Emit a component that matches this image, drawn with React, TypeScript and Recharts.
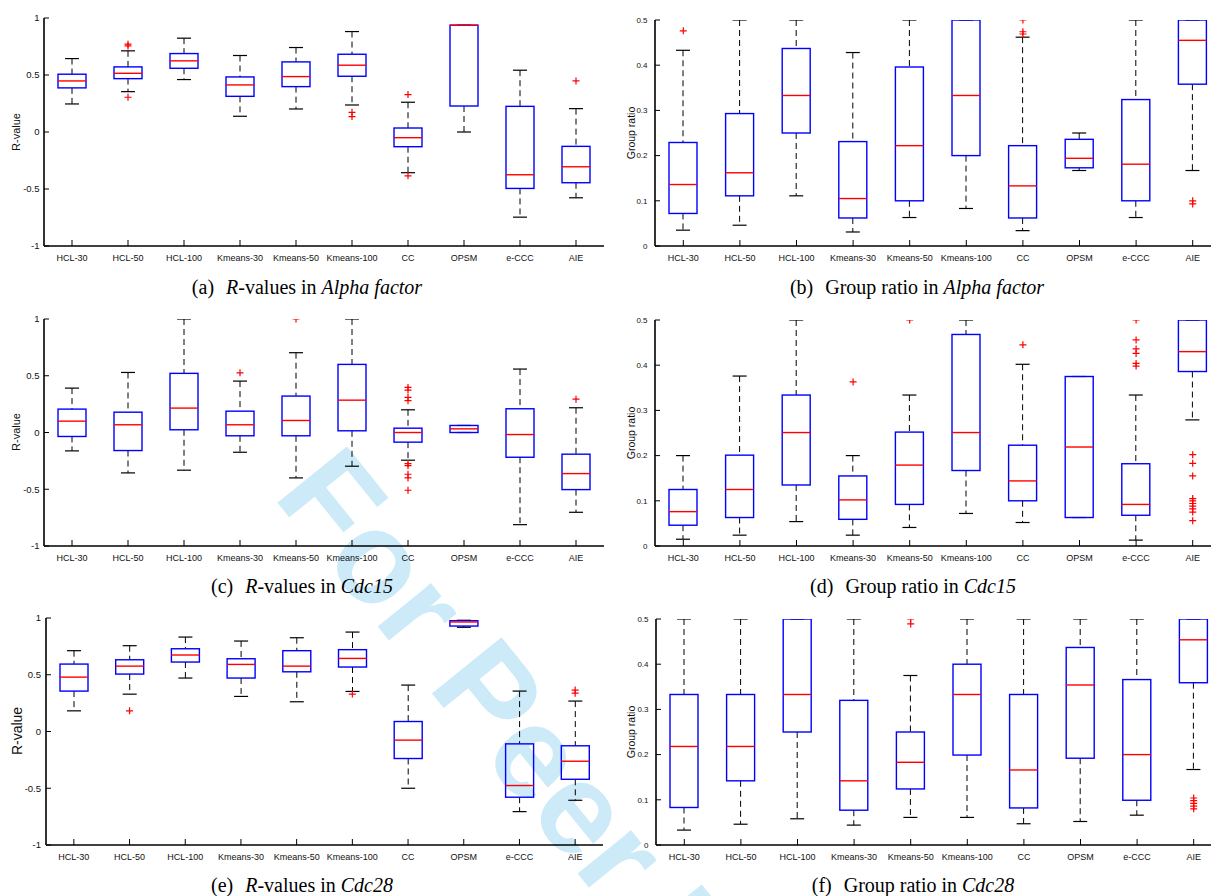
import { ComposedChart, Bar, Scatter, XAxis, YAxis } from 'recharts';

const methods = ['HCL-30', 'HCL-50', 'HCL-100', 'Kmeans-30', 'Kmeans-50', 'Kmeans-100', 'CC', 'OPSM', 'e-CCC', 'AIE'];
const positions = methods.map((_, i) => i + 1);
const rTicks = [-1, -0.5, 0, 0.5, 1];
const ratioTicks = [0, 0.1, 0.2, 0.3, 0.4, 0.5];

// each row: [lower whisker, q1, median, q3, upper whisker]
const alphaR = [
  [0.246, 0.387, 0.448, 0.507, 0.644],
  [0.354, 0.468, 0.515, 0.571, 0.712],
  [0.46, 0.559, 0.624, 0.688, 0.823],
  [0.138, 0.313, 0.413, 0.483, 0.671],
  [0.202, 0.398, 0.486, 0.615, 0.741],
  [0.237, 0.489, 0.586, 0.682, 0.881],
  [-0.357, -0.129, -0.05, 0.035, 0.261],
  [0.0, 0.228, 0.937, 0.937, 0.937],
  [-0.747, -0.495, -0.375, 0.225, 0.542],
  [-0.577, -0.445, -0.305, -0.126, 0.205],
];
const alphaRFliers = [[], [0.77, 0.755, 0.305], [], [], [], [0.173, 0.135], [0.328, -0.384], [], [], [0.448]];

const alphaRatio = [
  [0.035, 0.072, 0.136, 0.229, 0.433],
  [0.046, 0.111, 0.162, 0.293, 0.5],
  [0.111, 0.25, 0.333, 0.437, 0.5],
  [0.031, 0.062, 0.105, 0.231, 0.428],
  [0.063, 0.1, 0.222, 0.396, 0.5],
  [0.083, 0.2, 0.333, 0.5, 0.5],
  [0.034, 0.062, 0.133, 0.222, 0.462],
  [0.167, 0.173, 0.194, 0.236, 0.25],
  [0.063, 0.1, 0.181, 0.324, 0.5],
  [0.167, 0.358, 0.455, 0.5, 0.5],
];
const alphaRatioFliers = [[0.476], [], [], [], [], [], [0.5, 0.474, 0.469], [], [], [0.1, 0.093]];

const cdc15R = [
  [-0.162, -0.035, 0.1, 0.206, 0.391],
  [-0.356, -0.159, 0.068, 0.179, 0.529],
  [-0.332, 0.024, 0.215, 0.521, 1.0],
  [-0.174, -0.029, 0.068, 0.188, 0.453],
  [-0.4, -0.029, 0.106, 0.321, 0.703],
  [-0.297, 0.015, 0.285, 0.6, 1.0],
  [-0.244, -0.085, 0.0, 0.038, 0.2],
  [0.0, 0.0, 0.032, 0.062, 0.062],
  [-0.812, -0.218, -0.018, 0.209, 0.559],
  [-0.703, -0.503, -0.362, -0.191, 0.218],
];
const cdc15RFliers = [
  [], [], [], [0.526], [1.0], [],
  [0.397, 0.374, 0.309, 0.28, -0.274, -0.291, -0.368, -0.4, -0.509],
  [], [], [0.294],
];

const cdc15Ratio = [
  [0.015, 0.046, 0.076, 0.125, 0.2],
  [0.024, 0.063, 0.125, 0.201, 0.376],
  [0.054, 0.135, 0.251, 0.334, 0.5],
  [0.024, 0.059, 0.102, 0.155, 0.2],
  [0.041, 0.092, 0.179, 0.252, 0.334],
  [0.072, 0.167, 0.251, 0.468, 0.5],
  [0.052, 0.1, 0.144, 0.223, 0.402],
  [0.063, 0.063, 0.219, 0.375, 0.375],
  [0.013, 0.068, 0.092, 0.182, 0.334],
  [0.279, 0.386, 0.43, 0.5, 0.5],
];
const cdc15RatioFliers = [
  [], [], [], [0.363], [0.5], [], [0.445], [],
  [0.5, 0.456, 0.436, 0.426, 0.404, 0.398],
  [0.202, 0.183, 0.155, 0.105, 0.1, 0.094, 0.088, 0.082, 0.075, 0.056],
];

const cdc28R = [
  [0.182, 0.356, 0.479, 0.594, 0.712],
  [0.329, 0.506, 0.576, 0.632, 0.756],
  [0.471, 0.612, 0.674, 0.729, 0.832],
  [0.309, 0.471, 0.591, 0.641, 0.797],
  [0.262, 0.526, 0.576, 0.712, 0.826],
  [0.353, 0.568, 0.644, 0.721, 0.876],
  [-0.5, -0.238, -0.076, 0.088, 0.409],
  [0.918, 0.929, 0.965, 0.976, 0.98],
  [-0.706, -0.579, -0.476, -0.109, 0.356],
  [-0.606, -0.421, -0.262, -0.126, 0.268],
];
const cdc28RFliers = [[], [0.182], [], [], [], [0.33], [], [], [], [0.365, 0.338]];

const cdc28Ratio = [
  [0.033, 0.083, 0.218, 0.333, 0.5],
  [0.046, 0.142, 0.218, 0.333, 0.5],
  [0.058, 0.25, 0.333, 0.5, 0.5],
  [0.044, 0.077, 0.142, 0.32, 0.5],
  [0.061, 0.124, 0.183, 0.25, 0.375],
  [0.061, 0.199, 0.333, 0.4, 0.5],
  [0.047, 0.082, 0.166, 0.333, 0.5],
  [0.052, 0.192, 0.354, 0.437, 0.5],
  [0.066, 0.099, 0.2, 0.366, 0.5],
  [0.167, 0.359, 0.454, 0.5, 0.5],
];
const cdc28RatioFliers = [[], [], [], [], [0.5, 0.489], [], [], [], [], [0.104, 0.098, 0.092, 0.086, 0.08]];

const SANS = "'Liberation Sans', Arial, Helvetica, sans-serif";
const SERIF = "'Liberation Serif', 'Times New Roman', serif";
const BLUE = '#0000ff';
const RED = '#ff0000';

// plot rectangles (left/top of the axes box, in page pixels)
const panels = [
  { stats: alphaR, fliers: alphaRFliers, left: 44, top: 18, width: 560, height: 228, domain: [-1, 1], yTicks: rTicks, gap: 9.5, tickFont: 9.5 },
  { stats: alphaRatio, fliers: alphaRatioFliers, left: 655, top: 20, width: 566, height: 226, domain: [0, 0.5], yTicks: ratioTicks, gap: 12.5, tickFont: 8 },
  { stats: cdc15R, fliers: cdc15RFliers, left: 44, top: 319, width: 560, height: 227, domain: [-1, 1], yTicks: rTicks, gap: 9.5, tickFont: 9.5 },
  { stats: cdc15Ratio, fliers: cdc15RatioFliers, left: 655, top: 320, width: 566, height: 226, domain: [0, 0.5], yTicks: ratioTicks, gap: 12.5, tickFont: 8 },
  { stats: cdc28R, fliers: cdc28RFliers, left: 46, top: 618, width: 557, height: 227, domain: [-1, 1], yTicks: rTicks, gap: 10, tickFont: 9.5 },
  { stats: cdc28Ratio, fliers: cdc28RatioFliers, left: 656, top: 619, width: 566, height: 226, domain: [0, 0.5], yTicks: ratioTicks, gap: 12.5, tickFont: 8 },
];

// whiskers, caps, box and median for one group; the bar spans lower..upper whisker
function BoxGlyph(props: any) {
  const { x, y, width, height, payload } = props;
  if (x == null || y == null || !payload) return null;
  const top = Math.min(y, y + height);
  const bot = Math.max(y, y + height);
  const { lo, q1, med, q3, hi } = payload;
  const at = (v: number) => (hi === lo ? top : top + ((hi - v) / (hi - lo)) * (bot - top));
  const cx = x + width / 2;
  const cap = width / 4;
  const yq1 = at(q1);
  const yq3 = at(q3);
  const ymed = at(med);
  return (
    <g>
      {hi > q3 && <line x1={cx} x2={cx} y1={top} y2={yq3} stroke="#000" strokeWidth={1} strokeDasharray="6 4" />}
      {lo < q1 && <line x1={cx} x2={cx} y1={yq1} y2={bot} stroke="#000" strokeWidth={1} strokeDasharray="6 4" />}
      <line x1={cx - cap} x2={cx + cap} y1={top} y2={top} stroke="#000" strokeWidth={1.2} />
      <line x1={cx - cap} x2={cx + cap} y1={bot} y2={bot} stroke="#000" strokeWidth={1.2} />
      <rect x={x} y={yq3} width={width} height={Math.max(yq1 - yq3, 0)} fill="none" stroke={BLUE} strokeWidth={1.4} />
      <line x1={x} x2={x + width} y1={ymed} y2={ymed} stroke={RED} strokeWidth={1.4} />
    </g>
  );
}

function Plus(props: any) {
  const { cx, cy } = props;
  if (cx == null || cy == null) return null;
  return <path d={`M${cx - 3.5},${cy}H${cx + 3.5}M${cx},${cy - 3.5}V${cy + 3.5}`} stroke={RED} strokeWidth={1.2} fill="none" />;
}

const frame = { stroke: '#000', strokeWidth: 1.6 };
const tickStroke = { stroke: '#000', strokeWidth: 1 };

function Panel({ p }: { p: (typeof panels)[number] }) {
  const data = p.stats.map((s, i) => ({ pos: i + 1, lo: s[0], q1: s[1], med: s[2], q3: s[3], hi: s[4], span: [s[0], s[4]] }));
  const outliers = p.fliers.flatMap((vals, i) => vals.map((v) => ({ pos: i + 1, v })));
  const w = 44 + p.width + 10;
  const h = 10 + p.height + 30;
  return (
    <div style={{ position: 'absolute', left: p.left - 44, top: p.top - 10 }}>
      <ComposedChart width={w} height={h} data={data} margin={{ top: 10, right: 10, bottom: 0, left: 10 }}>
        <XAxis
          dataKey="pos"
          type="number"
          domain={[0.5, 10.5]}
          ticks={positions}
          interval={0}
          allowDataOverflow
          height={30}
          tickSize={-6}
          tickMargin={15}
          axisLine={frame}
          tickLine={tickStroke}
          tickFormatter={(v: number) => methods[v - 1]}
          tick={{ fontSize: 9, fill: '#111', fontFamily: SANS }}
        />
        <XAxis
          xAxisId="top"
          orientation="top"
          type="number"
          domain={[0.5, 10.5]}
          ticks={positions}
          interval={0}
          allowDataOverflow
          height={0}
          tickSize={-6}
          tick={false}
          axisLine={frame}
          tickLine={tickStroke}
        />
        <YAxis
          type="number"
          domain={p.domain}
          ticks={p.yTicks}
          interval={0}
          allowDataOverflow
          width={34}
          tickSize={-5}
          tickMargin={p.gap}
          axisLine={frame}
          tickLine={tickStroke}
          tickFormatter={(v: number) => String(v)}
          tick={{ fontSize: p.tickFont, fill: '#111', fontFamily: SANS }}
        />
        <YAxis
          yAxisId="right"
          orientation="right"
          type="number"
          domain={p.domain}
          ticks={p.yTicks}
          interval={0}
          allowDataOverflow
          width={0}
          tickSize={-5}
          tick={false}
          axisLine={frame}
          tickLine={tickStroke}
        />
        <Bar dataKey="span" barSize={Math.round(p.width / 20)} shape={<BoxGlyph />} isAnimationActive={false} />
        <Scatter data={outliers} dataKey="v" shape={<Plus />} isAnimationActive={false} />
      </ComposedChart>
    </div>
  );
}

const captions = [
  { x: 307, y: 294, tag: '(a)', kind: 'R', set: 'Alpha factor' },
  { x: 917, y: 294, tag: '(b)', kind: 'G', set: 'Alpha factor' },
  { x: 302, y: 593, tag: '(c)', kind: 'R', set: 'Cdc15' },
  { x: 913, y: 593, tag: '(d)', kind: 'G', set: 'Cdc15' },
  { x: 302, y: 892, tag: '(e)', kind: 'R', set: 'Cdc28' },
  { x: 913, y: 892, tag: '(f)', kind: 'G', set: 'Cdc28' },
];

const yLabels = [
  { x: 15.7, y: 132, text: 'R-value', size: 11 },
  { x: 630.5, y: 133, text: 'Group ratio', size: 10.5 },
  { x: 15.7, y: 432, text: 'R-value', size: 11 },
  { x: 630.5, y: 433, text: 'Group ratio', size: 10.5 },
  { x: 17.3, y: 731, text: 'R-value', size: 14 },
  { x: 630.5, y: 732, text: 'Group ratio', size: 10.5 },
];

export default function App() {
  return (
    <div style={{ position: 'absolute', left: 0, top: 0, width: 1211, height: 896, overflow: 'hidden', background: '#fff' }}>
      <svg width={1211} height={896} style={{ position: 'absolute', left: 0, top: 0 }}>
        <text
          x={272}
          y={496}
          transform="rotate(51 272 496)"
          fontFamily={SANS}
          fontWeight="bold"
          fontSize={130}
          fill="#cdeaf9"
        >
          For Peer Review
        </text>
        {yLabels.map((l, i) => (
          <text
            key={i}
            x={l.x}
            y={l.y}
            transform={`rotate(-90 ${l.x} ${l.y})`}
            textAnchor="middle"
            dominantBaseline="central"
            fontFamily={SANS}
            fontSize={l.size}
            fill="#111"
          >
            {l.text}
          </text>
        ))}
        {captions.map((c, i) => (
          <text key={i} x={c.x} y={c.y} textAnchor="middle" fontFamily={SERIF} fontSize={20} fill="#000">
            <tspan>{c.tag}</tspan>
            {c.kind === 'R' ? (
              <>
                <tspan dx={12} fontStyle="italic">R</tspan>
                <tspan>-values in </tspan>
              </>
            ) : (
              <tspan dx={12}>Group ratio in </tspan>
            )}
            <tspan fontStyle="italic">{c.set}</tspan>
          </text>
        ))}
      </svg>
      {panels.map((p, i) => (
        <Panel key={i} p={p} />
      ))}
    </div>
  );
}
